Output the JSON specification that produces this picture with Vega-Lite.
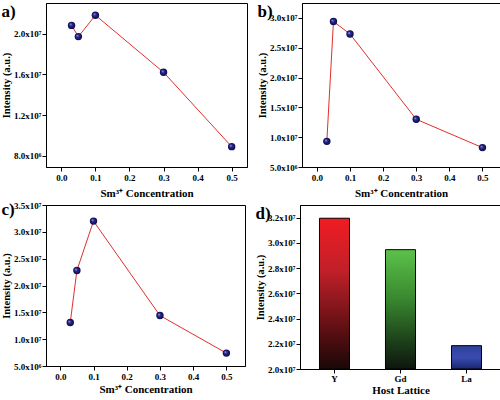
{
  "$schema": "https://vega.github.io/schema/vega-lite/v6.json",
  "padding": {"left": 1, "top": 2, "right": 2, "bottom": 0},
  "background": "white",
  "datasets": {
    "a": [
      {"conc": 0.03, "intensity": 20800000},
      {"conc": 0.05, "intensity": 19700000},
      {"conc": 0.1, "intensity": 21800000},
      {"conc": 0.3, "intensity": 16200000},
      {"conc": 0.5, "intensity": 8900000}
    ],
    "b": [
      {"conc": 0.03, "intensity": 9300000},
      {"conc": 0.05, "intensity": 29400000},
      {"conc": 0.1, "intensity": 27300000},
      {"conc": 0.3, "intensity": 13000000},
      {"conc": 0.5, "intensity": 8250000}
    ],
    "c": [
      {"conc": 0.03, "intensity": 13100000},
      {"conc": 0.05, "intensity": 22800000},
      {"conc": 0.1, "intensity": 32000000},
      {"conc": 0.3, "intensity": 14400000},
      {"conc": 0.5, "intensity": 7400000}
    ],
    "d": [
      {"host": "Y", "intensity": 31950000},
      {"host": "Gd", "intensity": 29460000},
      {"host": "La", "intensity": 21850000}
    ]
  },
  "config": {
    "view": {"stroke": "black", "strokeWidth": 1},
    "axis": {
      "labelFont": "Liberation Serif", "labelFontWeight": "bold", "labelFontSize": 9, "labelColor": "black",
      "titleFont": "Liberation Serif", "titleFontWeight": "bold", "titleFontSize": 10.5, "titleColor": "black",
      "domainColor": "black", "tickColor": "black", "grid": false, "tickSize": 4, "labelPadding": 1, "titlePadding": 2
    },
    "axisX": {"labelPadding": 2, "titlePadding": 5, "titleFontSize": 11},
    "title": {"font": "Liberation Serif", "fontWeight": "bold", "fontSize": 17, "color": "black", "anchor": "start", "frame": "bounds", "dy": 22, "dx": 0}
  },
  "vconcat": [
    {
      "hconcat": [
        {
          "title": "a)",
          "width": 201, "height": 164,
          "data": {"name": "a"},
          "encoding": {
            "x": {"field": "conc", "type": "quantitative", "title": "Sm³⁺ Concentration",
                  "scale": {"domain": [-0.045, 0.545], "nice": false, "zero": false},
                  "axis": {"values": [0, 0.1, 0.2, 0.3, 0.4, 0.5], "format": ".1f"}},
            "y": {"field": "intensity", "type": "quantitative", "title": "Intensity (a.u.)",
                  "scale": {"domain": [6900000, 23000000], "nice": false, "zero": false},
                  "axis": {"values": [8000000, 12000000, 16000000, 20000000],
                           "labelExpr": "datum.value < 1e7 ? format(datum.value/1e6,'.1f') + 'x10⁶' : format(datum.value/1e7,'.1f') + 'x10⁷'"}}
          },
          "layer": [
            {"mark": {"type": "line", "color": "#e0302a", "strokeWidth": 1}},
            {"mark": {"type": "point", "shape": "circle", "filled": true, "size": 55, "opacity": 1,
                      "fill": {"gradient": "radial", "x1": 0.35, "y1": 0.35, "r1": 0, "x2": 0.5, "y2": 0.5, "r2": 0.5,
                               "stops": [{"offset": 0, "color": "#c8c8ff"}, {"offset": 0.35, "color": "#2a2a9a"}, {"offset": 1, "color": "#0a0a40"}]}}}
          ]
        },
        {
          "title": "b)",
          "width": 198, "height": 164,
          "data": {"name": "b"},
          "encoding": {
            "x": {"field": "conc", "type": "quantitative", "title": "Sm³⁺ Concentration",
                  "scale": {"domain": [-0.045, 0.553], "nice": false, "zero": false},
                  "axis": {"values": [0, 0.1, 0.2, 0.3, 0.4, 0.5], "format": ".1f"}},
            "y": {"field": "intensity", "type": "quantitative", "title": "Intensity (a.u.)",
                  "scale": {"domain": [5000000, 32500000], "nice": false, "zero": false},
                  "axis": {"values": [5000000, 10000000, 15000000, 20000000, 25000000, 30000000],
                           "labelExpr": "datum.value < 1e7 ? format(datum.value/1e6,'.1f') + 'x10⁶' : format(datum.value/1e7,'.1f') + 'x10⁷'"}}
          },
          "layer": [
            {"mark": {"type": "line", "color": "#e0302a", "strokeWidth": 1}},
            {"mark": {"type": "point", "shape": "circle", "filled": true, "size": 55, "opacity": 1,
                      "fill": {"gradient": "radial", "x1": 0.35, "y1": 0.35, "r1": 0, "x2": 0.5, "y2": 0.5, "r2": 0.5,
                               "stops": [{"offset": 0, "color": "#c8c8ff"}, {"offset": 0.35, "color": "#2a2a9a"}, {"offset": 1, "color": "#0a0a40"}]}}}
          ]
        }
      ],
      "spacing": 9
    },
    {
      "hconcat": [
        {
          "title": "c)",
          "width": 199, "height": 161,
          "data": {"name": "c"},
          "encoding": {
            "x": {"field": "conc", "type": "quantitative", "title": "Sm³⁺ Concentration",
                  "scale": {"domain": [-0.043, 0.556], "nice": false, "zero": false},
                  "axis": {"values": [0, 0.1, 0.2, 0.3, 0.4, 0.5], "format": ".1f", "titlePadding": 2}},
            "y": {"field": "intensity", "type": "quantitative", "title": "Intensity (a.u.)",
                  "scale": {"domain": [5000000, 35000000], "nice": false, "zero": false},
                  "axis": {"values": [5000000, 10000000, 15000000, 20000000, 25000000, 30000000, 35000000],
                           "labelExpr": "datum.value < 1e7 ? format(datum.value/1e6,'.1f') + 'x10⁶' : format(datum.value/1e7,'.1f') + 'x10⁷'"}}
          },
          "layer": [
            {"mark": {"type": "line", "color": "#e0302a", "strokeWidth": 1}},
            {"mark": {"type": "point", "shape": "circle", "filled": true, "size": 55, "opacity": 1,
                      "fill": {"gradient": "radial", "x1": 0.35, "y1": 0.35, "r1": 0, "x2": 0.5, "y2": 0.5, "r2": 0.5,
                               "stops": [{"offset": 0, "color": "#c8c8ff"}, {"offset": 0.35, "color": "#2a2a9a"}, {"offset": 1, "color": "#0a0a40"}]}}}
          ]
        },
        {
          "title": "d)",
          "width": 201, "height": 164,
          "data": {"name": "d"},
          "encoding": {
            "x": {"field": "host", "type": "nominal", "title": "Host Lattice", "sort": ["Y", "Gd", "La"],
                  "scale": {"paddingInner": 0.545, "paddingOuter": 0.295},
                  "axis": {"labelAngle": 0, "labelPadding": 1, "titlePadding": 1}},
            "y": {"field": "intensity", "type": "quantitative", "title": "Intensity (a.u.)",
                  "scale": {"domain": [20000000, 33000000], "nice": false, "zero": false},
                  "axis": {"values": [20000000, 22000000, 24000000, 26000000, 28000000, 30000000, 32000000],
                           "labelExpr": "format(datum.value/1e7,'.1f') + 'x10⁷'"}},
            "y2": {"datum": 20000000}
          },
          "layer": [
            {"transform": [{"filter": "datum.host == 'Y'"}],
             "mark": {"type": "bar", "stroke": "black", "strokeWidth": 1,
                      "fill": {"gradient": "linear", "x1": 0, "y1": 0, "x2": 0, "y2": 1,
                               "stops": [{"offset": 0, "color": "#f01c22"}, {"offset": 0.35, "color": "#c0202a"}, {"offset": 0.75, "color": "#5a0f12"}, {"offset": 1, "color": "#1a0808"}]}}},
            {"transform": [{"filter": "datum.host == 'Gd'"}],
             "mark": {"type": "bar", "stroke": "black", "strokeWidth": 1,
                      "fill": {"gradient": "linear", "x1": 0, "y1": 0, "x2": 0, "y2": 1,
                               "stops": [{"offset": 0, "color": "#5cc24a"}, {"offset": 0.4, "color": "#3a8a30"}, {"offset": 0.8, "color": "#1a3a18"}, {"offset": 1, "color": "#0e160e"}]}}},
            {"transform": [{"filter": "datum.host == 'La'"}],
             "mark": {"type": "bar", "stroke": "black", "strokeWidth": 1,
                      "fill": {"gradient": "linear", "x1": 0, "y1": 0, "x2": 0, "y2": 1,
                               "stops": [{"offset": 0, "color": "#2e3f9a"}, {"offset": 0.5, "color": "#3a4cb0"}, {"offset": 1, "color": "#1a2670"}]}}}
          ]
        }
      ],
      "spacing": 9
    }
  ],
  "spacing": 1
}
